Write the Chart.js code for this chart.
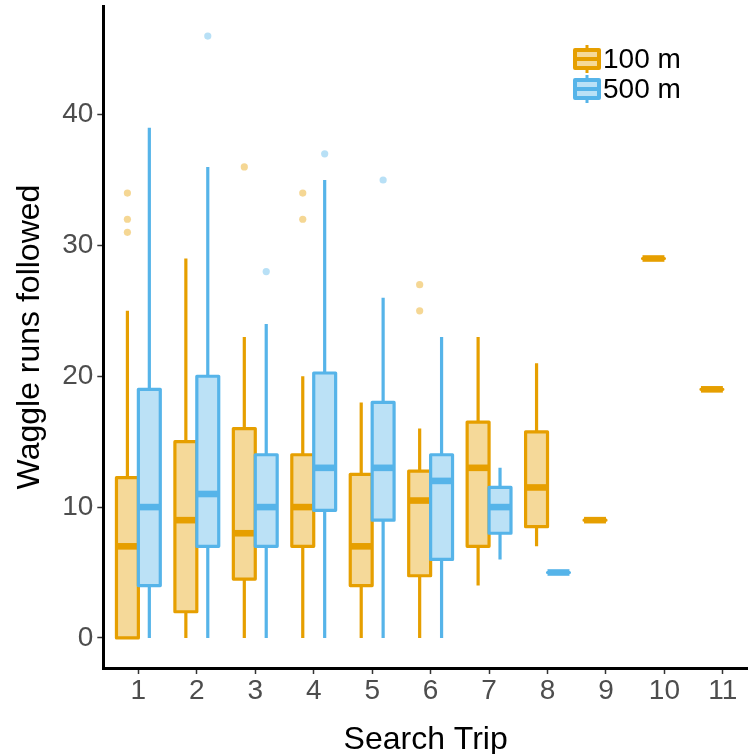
<!DOCTYPE html>
<html>
<head>
<meta charset="utf-8">
<script src="https://cdn.jsdelivr.net/npm/chart.js@4.4.1/dist/chart.umd.min.js"></script>
<style>
  html, body { margin: 0; padding: 0; background: #fff; overflow: hidden; }
  canvas { display: block; }
</style>
</head>
<body>
<canvas id="boxChart" width="748" height="754"></canvas>
<script>
// Search trips on the x axis
var trips = [1, 2, 3, 4, 5, 6, 7, 8, 9, 10, 11];
var yTicks = [0, 10, 20, 30, 40];
var seriesNames = ['100 m', '500 m'];

// 100 m boxes
var lo100  = [0, 0, 0, 0, 0, 0, 4, 7, 9, 29, 19];
var q1_100 = [0, 2, 4.5, 7, 4, 4.75, 7, 8.5, 9, 29, 19];
var med100 = [7, 9, 8, 10, 7, 10.5, 13, 11.5, 9, 29, 19];
var q3_100 = [12.25, 15, 16, 14, 12.5, 12.75, 16.5, 15.75, 9, 29, 19];
var hi100  = [25, 29, 23, 20, 18, 16, 23, 21, 9, 29, 19];
var out100 = [[34, 32, 31], [], [36], [34, 32], [], [27, 25], [], [], [], [], []];

// 500 m boxes
var lo500  = [0, 0, 0, 0, 0, 0, 6, 5, null, null, null];
var q1_500 = [4, 7, 7, 9.75, 9, 6, 8, 5, null, null, null];
var med500 = [10, 11, 10, 13, 13, 12, 10, 5, null, null, null];
var q3_500 = [19, 20, 14, 20.25, 18, 14, 11.5, 5, null, null, null];
var hi500  = [39, 36, 24, 35, 26, 23, 13, 5, null, null, null];
var out500 = [[], [46], [28], [37], [35], [], [], [], [], [], []];

var lineColors = ['#E69F00', '#56B4E9'];
var fillColors = ['#F5D999', '#BBE1F6'];
var pointColors = ['rgba(230,159,0,0.42)', 'rgba(86,180,233,0.42)'];
var dodge = [-0.1875, 0.1875];
var boxWidth = 0.375;

var series = [
    { lo: lo100, q1: q1_100, med: med100, q3: q3_100, hi: hi100, out: out100 },
    { lo: lo500, q1: q1_500, med: med500, q3: q3_500, hi: hi500, out: out500 }
];

var FONT = "'Liberation Sans', Arial, sans-serif";

// outlier points as scatter datasets
var datasets = series.map(function (s, k) {
    var pts = [];
    trips.forEach(function (t, i) {
        s.out[i].forEach(function (v) { pts.push({ x: t + dodge[k], y: v }); });
    });
    return {
        label: seriesNames[k],
        data: pts,
        backgroundColor: pointColors[k],
        borderWidth: 0,
        pointRadius: 3.6,
        pointHoverRadius: 3.6
    };
});

var boxPlugin = {
    id: 'boxes',
    beforeDatasetsDraw: function (chart) {
        var ctx = chart.ctx, x = chart.scales.x, y = chart.scales.y;
        var half = (x.getPixelForValue(boxWidth) - x.getPixelForValue(0)) / 2;
        ctx.save();
        trips.forEach(function (t, i) {
            series.forEach(function (s, k) {
                if (s.med[i] == null) return;
                var cx = x.getPixelForValue(t + dodge[k]);
                var yLo = y.getPixelForValue(s.lo[i]);
                var yQ1 = y.getPixelForValue(s.q1[i]);
                var yMed = y.getPixelForValue(s.med[i]);
                var yQ3 = y.getPixelForValue(s.q3[i]);
                var yHi = y.getPixelForValue(s.hi[i]);
                ctx.strokeStyle = lineColors[k];
                ctx.lineCap = 'butt';
                ctx.lineJoin = 'round';
                // whiskers
                ctx.lineWidth = 3.2;
                ctx.beginPath();
                ctx.moveTo(cx, yQ3); ctx.lineTo(cx, yHi);
                ctx.moveTo(cx, yQ1); ctx.lineTo(cx, yLo);
                ctx.stroke();
                // box
                ctx.fillStyle = fillColors[k];
                ctx.fillRect(cx - half, yQ3, 2 * half, yQ1 - yQ3);
                ctx.lineWidth = 3.2;
                ctx.strokeRect(cx - half, yQ3, 2 * half, yQ1 - yQ3);
                // median
                ctx.lineWidth = 6.6;
                ctx.beginPath();
                ctx.moveTo(cx - half, yMed); ctx.lineTo(cx + half, yMed);
                ctx.stroke();
            });
        });
        ctx.restore();
    },
    afterDraw: function (chart) {
        var ctx = chart.ctx, area = chart.chartArea;
        ctx.save();
        seriesNames.forEach(function (name, k) {
            var x0 = area.right - 175;
            var cy = area.top + 53 + k * 30;
            ctx.strokeStyle = lineColors[k];
            ctx.lineWidth = 3;
            ctx.beginPath();
            ctx.moveTo(x0 + 14, cy - 14); ctx.lineTo(x0 + 14, cy + 14);
            ctx.stroke();
            ctx.fillStyle = fillColors[k];
            ctx.lineWidth = 4;
            ctx.lineJoin = 'round';
            ctx.beginPath();
            ctx.rect(x0 + 2, cy - 9, 24, 18);
            ctx.fill();
            ctx.stroke();
            ctx.beginPath();
            ctx.moveTo(x0 + 2, cy); ctx.lineTo(x0 + 26, cy);
            ctx.stroke();
            ctx.fillStyle = '#000';
            ctx.font = '28px ' + FONT;
            ctx.textAlign = 'left';
            ctx.textBaseline = 'middle';
            ctx.fillText(name, x0 + 30, cy + 1);
        });
        ctx.restore();
    }
};

var ctx = document.getElementById('boxChart').getContext('2d');
new Chart(ctx, {
    type: 'scatter',
    data: { datasets: datasets },
    plugins: [boxPlugin],
    options: {
        responsive: false,
        animation: false,
        devicePixelRatio: 1,
        layout: { autoPadding: false, padding: { top: 6, right: 0, bottom: 0, left: 0 } },
        plugins: {
            legend: { display: false },
            tooltip: { enabled: false }
        },
        scales: {
            x: {
                type: 'linear',
                min: 0.4,
                max: 11.43,
                afterBuildTicks: function (scale) {
                    scale.ticks = trips.map(function (v) { return { value: v }; });
                },
                afterFit: function (scale) {
                    scale.height = 86;
                    scale.paddingLeft = 0;
                    scale.paddingRight = 0;
                },
                grid: {
                    drawOnChartArea: false,
                    drawTicks: true,
                    tickLength: 6,
                    tickColor: '#333333',
                    tickWidth: 1.5
                },
                border: { display: true, color: '#000', width: 3 },
                ticks: {
                    color: '#4D4D4D',
                    font: { family: FONT, size: 28 },
                    padding: 0,
                    maxRotation: 0,
                    autoSkip: false
                },
                title: {
                    display: true,
                    text: 'Search Trip',
                    color: '#000',
                    font: { family: FONT, size: 32, lineHeight: 1 },
                    padding: { top: 0, bottom: -2 }
                }
            },
            y: {
                min: -2.3,
                max: 48.3,
                afterBuildTicks: function (scale) {
                    scale.ticks = yTicks.map(function (v) { return { value: v }; });
                },
                afterFit: function (scale) {
                    scale.width = 103.3;
                    scale.paddingTop = 0;
                    scale.paddingBottom = 0;
                },
                grid: {
                    drawOnChartArea: false,
                    drawTicks: true,
                    tickLength: 6,
                    tickColor: '#333333',
                    tickWidth: 1.5
                },
                border: { display: true, color: '#000', width: 3 },
                ticks: {
                    color: '#4D4D4D',
                    font: { family: FONT, size: 28 },
                    padding: 4
                },
                title: {
                    display: true,
                    text: 'Waggle runs followed',
                    color: '#000',
                    font: { family: FONT, size: 32, lineHeight: 1 },
                    padding: { top: 14, bottom: 0 }
                }
            }
        }
    }
});
</script>
</body>
</html>
